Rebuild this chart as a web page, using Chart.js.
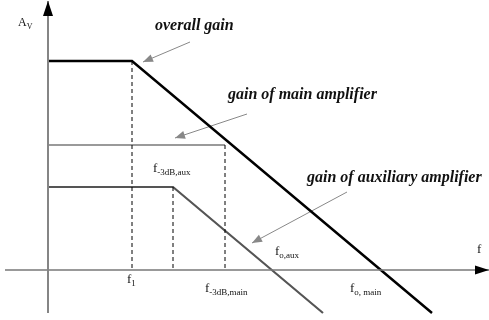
<html>
<head>
  <meta charset="UTF-8">
  <script src="https://cdn.jsdelivr.net/npm/chart.js@4/dist/chart.umd.min.js"></script>
  <style> body {padding: 0; margin: 0; background: #fff;} </style>
</head>

<body>

<canvas id="myChart" width="489" height="320"></canvas>

<script>

// corner frequencies (same units as the x scale, origin at the y-axis)
var f1 = 84;
var f3dbAux = 125;
var f3dbMain = 177;
var foAux = 224;
var foMain = 333;

// low-frequency gains
var gainOverall = 209;
var gainMain = 125;
var gainAux = 83;

// asymptotic curves (x = frequency, y = gain)
var overallX = [0, f1, 384];
var overallY = [gainOverall, gainOverall, -43];
var mainX = [0, f3dbMain];
var mainY = [gainMain, gainMain];
var auxX = [0, f3dbAux, 275];
var auxY = [gainAux, gainAux, -43];

// dashed markers dropped from the breakpoints
var markerX = [f1, f3dbAux, f3dbMain];
var markerY = [gainOverall, gainAux, gainMain];

// axis extents
var axisX = [-43, 441];
var axisY = [-43, 269];

// tick labels on the frequency axis
var tickText = ['f', 'f', 'f', 'f'];
var tickSub = ['1', '-3dB,main', 'o, main', 'o,aux'];
var tickX = [79, 157, 302, 227];
var tickY = [-13, -22, -22, 15];

function pts(xs, ys) {
    var out = [];
    for (var i = 0; i < xs.length; i++) {
        out.push({x: xs[i], y: ys[i]});
    }
    return out;
}

function line(xs, ys, color, width, extra) {
    var ds = {
        data: pts(xs, ys),
        borderColor: color,
        backgroundColor: color,
        borderWidth: width,
        pointRadius: 0,
        tension: 0,
        fill: false
    };
    for (var k in extra) ds[k] = extra[k];
    return ds;
}

var datasets = [];
datasets.push(line([0, 0], axisY, '#858585', 2, {arrow: 15, arrowWidth: 5, arrowColor: '#000'}));
datasets.push(line(axisX, [0, 0], '#777', 1.5, {arrow: 14, arrowWidth: 4.5, arrowColor: '#000'}));
for (var i = 0; i < markerX.length; i++) {
    datasets.push(line([markerX[i], markerX[i]], [markerY[i], 0], '#000', 1, {borderDash: [4, 3]}));
}
datasets.push(line(mainX, mainY, '#9a9a9a', 2.2));
datasets.push(line(auxX, auxY, '#555', 2.2));
datasets.push(line(overallX, overallY, '#000', 2.5));

// pointers from the captions to the curves
datasets.push(line([142, 95], [228, 208], '#888', 1, {arrow: 10, arrowWidth: 4}));
datasets.push(line([199, 127], [156, 132], '#888', 1, {arrow: 10, arrowWidth: 4}));
datasets.push(line([299, 204], [78, 27], '#888', 1, {arrow: 10, arrowWidth: 4}));

// captions
var captions = [
    {text: 'overall gain', x: 107, y: 240},
    {text: 'gain of main amplifier', x: 180, y: 171},
    {text: 'gain of auxiliary amplifier', x: 259, y: 88}
];

var arrowHeads = {
    id: 'arrowHeads',
    afterDatasetsDraw: function(chart) {
        var ctx = chart.ctx;
        chart.data.datasets.forEach(function(ds, i) {
            if (!ds.arrow) return;
            var meta = chart.getDatasetMeta(i).data;
            var a = meta[meta.length - 2], b = meta[meta.length - 1];
            var ang = Math.atan2(b.y - a.y, b.x - a.x);
            ctx.save();
            ctx.translate(b.x, b.y);
            ctx.rotate(ang);
            ctx.fillStyle = ds.arrowColor || ds.borderColor;
            ctx.beginPath();
            ctx.moveTo(0, 0);
            ctx.lineTo(-ds.arrow, -ds.arrowWidth);
            ctx.lineTo(-ds.arrow, ds.arrowWidth);
            ctx.closePath();
            ctx.fill();
            ctx.restore();
        });
    }
};

function subText(ctx, main, sub, px, py, size) {
    ctx.font = size + 'px "Liberation Serif"';
    ctx.fillText(main, px, py);
    var w = ctx.measureText(main).width;
    ctx.font = Math.round(size * 0.7) + 'px "Liberation Serif"';
    ctx.fillText(sub, px + w, py + 3);
}

var textLabels = {
    id: 'textLabels',
    afterDraw: function(chart) {
        var ctx = chart.ctx;
        var sx = chart.scales.x, sy = chart.scales.y;
        ctx.save();
        ctx.fillStyle = '#111';
        ctx.textBaseline = 'alphabetic';
        ctx.textAlign = 'left';
        for (var i = 0; i < tickText.length; i++) {
            subText(ctx, tickText[i], tickSub[i], sx.getPixelForValue(tickX[i]), sy.getPixelForValue(tickY[i]), 13);
        }
        subText(ctx, 'f', '-3dB,aux', sx.getPixelForValue(105), sy.getPixelForValue(98), 13);
        ctx.font = '13px "Liberation Serif"';
        ctx.fillText('f', sx.getPixelForValue(429), sy.getPixelForValue(17));
        subText(ctx, 'A', 'V', sx.getPixelForValue(-30), sy.getPixelForValue(244), 12);
        ctx.font = 'italic bold 16px "Liberation Serif"';
        captions.forEach(function(c) {
            ctx.fillText(c.text, sx.getPixelForValue(c.x), sy.getPixelForValue(c.y));
        });
        ctx.restore();
    }
};

var ctx = document.getElementById('myChart').getContext('2d');
var myChart = new Chart(ctx, {
    type: 'line',
    data: {datasets: datasets},
    options: {
        responsive: false,
        animation: false,
        layout: {padding: 0},
        scales: {
            x: {type: 'linear', display: false, min: -48, max: 441},
            y: {type: 'linear', display: false, min: -50, max: 270}
        },
        plugins: {
            legend: {display: false},
            tooltip: {enabled: false}
        }
    },
    plugins: [arrowHeads, textLabels]
});

</script>
</body>
</html>
